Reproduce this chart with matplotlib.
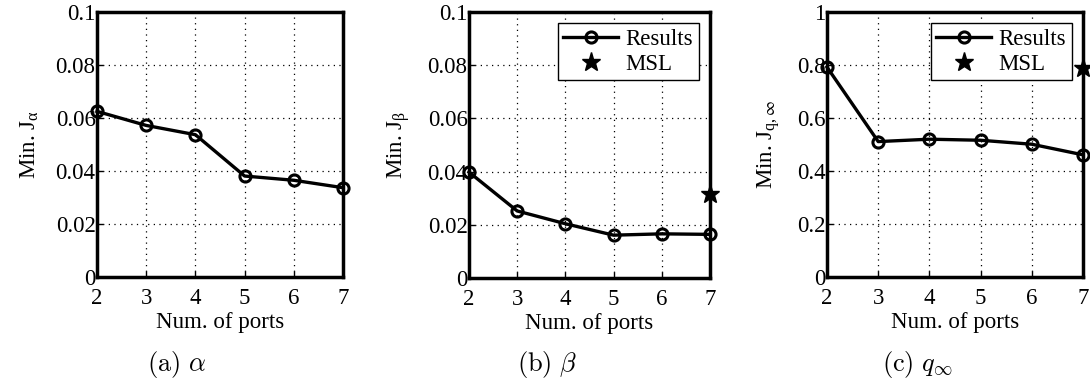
import matplotlib
matplotlib.use("Agg")
import matplotlib.pyplot as plt

ports = [2, 3, 4, 5, 6, 7]

alpha_min = [0.0625, 0.0572, 0.0537, 0.0381, 0.0365, 0.0337]
beta_min = [0.0398, 0.0252, 0.0204, 0.0161, 0.0166, 0.0164]
qinf_min = [0.792, 0.511, 0.520, 0.516, 0.501, 0.461]

beta_msl = 0.0314
qinf_msl = 0.787
msl_port = 7

plt.rcParams['font.family'] = ['Liberation Serif', 'DejaVu Serif']
plt.rcParams['font.size'] = 16.5

fig = plt.figure(figsize=(10.9, 3.88), dpi=100)

# axes boxes in pixels of the target: left, right, top, bottom
boxes = [(97, 343, 12, 277), (469, 710, 12, 278), (827, 1083, 12, 277)]
W, H = 1090.0, 388.0

def make_ax(box):
	l, r, t, b = box
	return fig.add_axes([l / W, 1 - b / H, (r - l) / W, (b - t) / H])

def style(ax, ymax, yticks, yticklabels, ylabel):
	ax.set_xlim(2, 7)
	ax.set_ylim(0, ymax)
	ax.set_xticks(ports)
	ax.set_yticks(yticks)
	ax.set_yticklabels(yticklabels)
	ax.grid(True, color='black', linestyle=(0, (1, 3.5)), linewidth=0.9)
	ax.tick_params(direction='in', length=4, width=1)
	ax.tick_params(axis='x', pad=8)
	ax.tick_params(axis='y', pad=1)
	for s in ax.spines.values():
		s.set_linewidth(2.5)
	ax.set_xlabel("Num. of ports", labelpad=2)
	ax.set_ylabel(ylabel, math_fontfamily='stix', labelpad=11)

line_kw = dict(color='black', linewidth=2.4, marker='o', markersize=8,
	markerfacecolor='none', markeredgewidth=2.2, clip_on=False, zorder=5)
star_kw = dict(color='black', linestyle='none', marker='*', markersize=14,
	clip_on=False, zorder=6)

ax1 = make_ax(boxes[0])
ax1.plot(ports, alpha_min, **line_kw)
style(ax1, 0.1, [0, 0.02, 0.04, 0.06, 0.08, 0.1],
	['0', '0.02', '0.04', '0.06', '0.08', '0.1'], r"Min. J$_{\mathregular{\alpha}}$")

ax2 = make_ax(boxes[1])
ax2.plot(ports, beta_min, label='Results', **line_kw)
ax2.plot([msl_port], [beta_msl], label='MSL', **star_kw)
style(ax2, 0.1, [0, 0.02, 0.04, 0.06, 0.08, 0.1],
	['0', '0.02', '0.04', '0.06', '0.08', '0.1'], r"Min. J$_{\mathregular{\beta}}$")

ax3 = make_ax(boxes[2])
ax3.plot(ports, qinf_min, label='Results', **line_kw)
ax3.plot([msl_port], [qinf_msl], label='MSL', **star_kw)
style(ax3, 1, [0, 0.2, 0.4, 0.6, 0.8, 1],
	['0', '0.2', '0.4', '0.6', '0.8', '1'], r"Min. J$_{\mathregular{q,}\infty}$")

for ax in (ax2, ax3):
	leg = ax.legend(loc='upper right', fancybox=False, framealpha=1,
		edgecolor='black', borderpad=0.25, labelspacing=0.15,
		handlelength=2.4, handletextpad=0.3, borderaxespad=0.5)
	leg.get_frame().set_linewidth(1.0)
	leg.set_zorder(10)

captions = [(177, r"$\mathrm{(a)}\ \alpha$"), (547, r"$\mathrm{(b)}\ \beta$"),
	(918, r"$\mathrm{(c)}\ q_{\infty}$")]
for x, txt in captions:
	fig.text(x / W, 1 - 364 / H, txt, ha='center', va='center',
		fontsize=19, math_fontfamily='cm')

fig.savefig("out.png", dpi=100)
